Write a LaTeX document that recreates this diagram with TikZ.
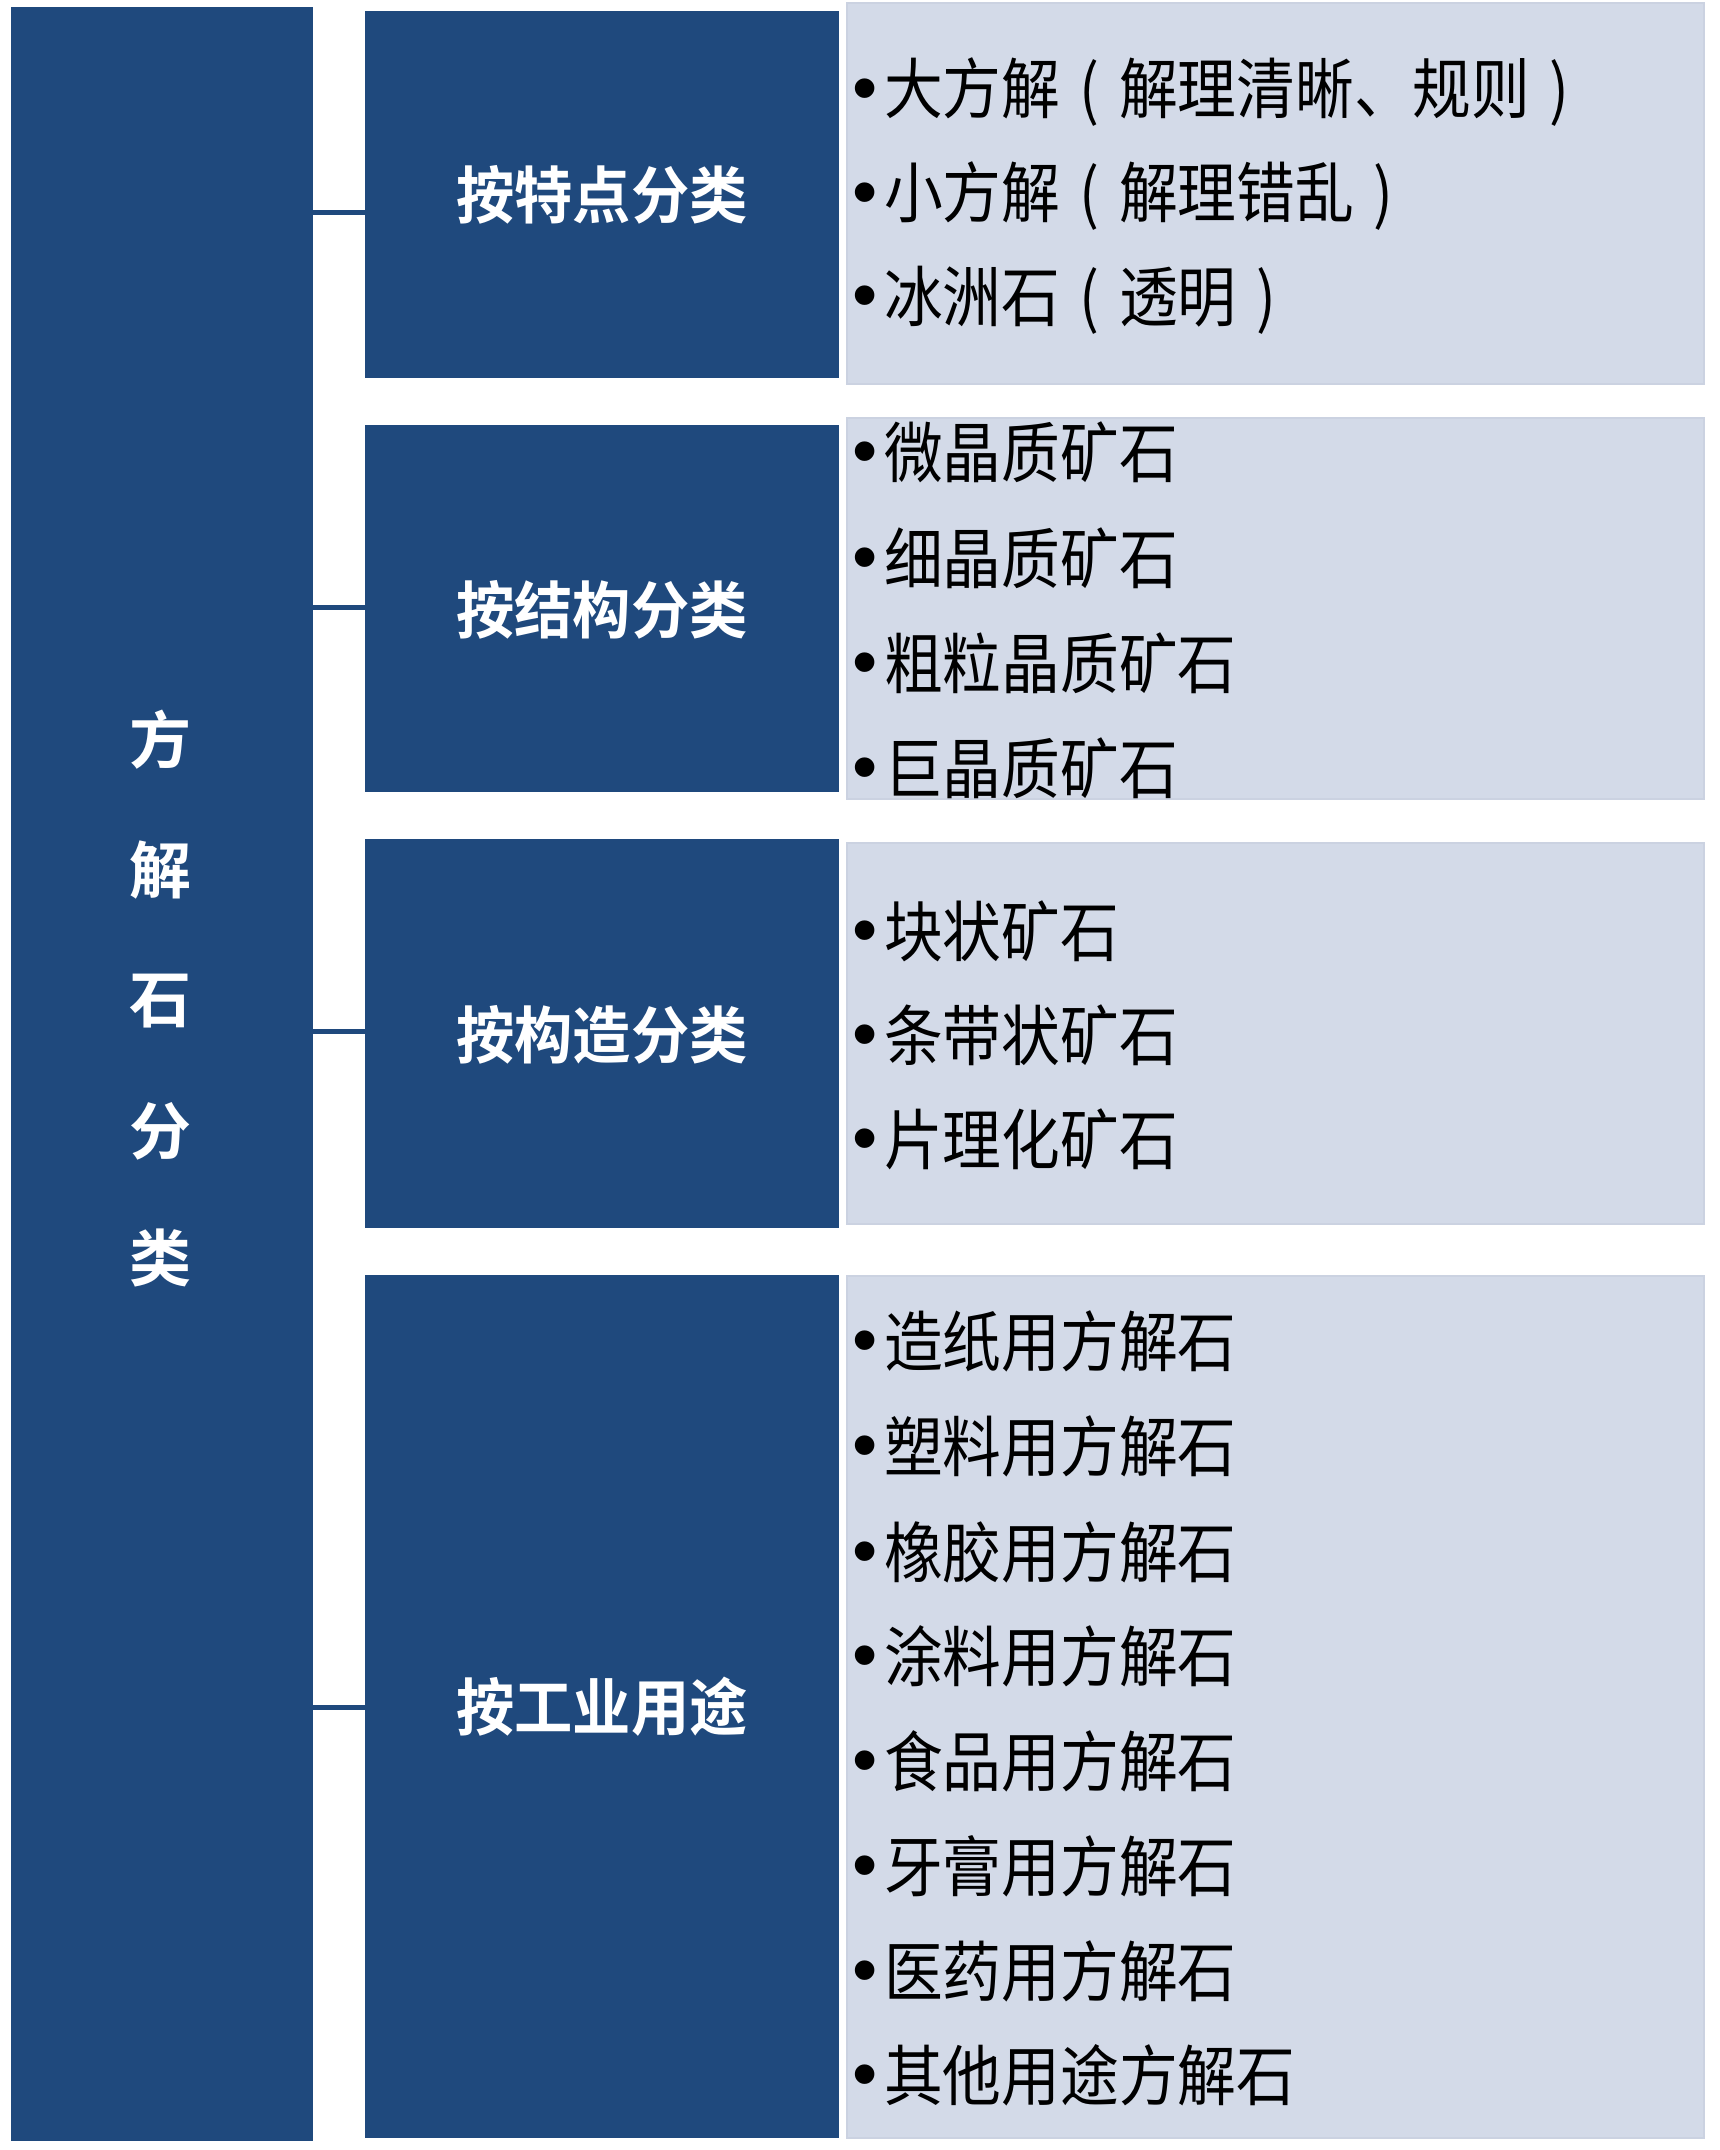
\documentclass[tikz,border=0pt]{standalone}
\usepackage{fontspec}
\newfontfamily\cjk[FakeStretch=0.89]{Noto Sans CJK SC}
\newfontfamily\cjkb[FakeStretch=0.94]{Noto Sans CJK SC Bold}
\newfontfamily\cjkbb{Noto Sans CJK SC Bold}
\newfontfamily\bul{Liberation Sans}
\definecolor{navy}{RGB}{31,73,125}
\definecolor{pale}{RGB}{211,218,232}
\definecolor{paleedge}{RGB}{203,210,225}
\tikzset{
  darkbox/.style={fill=navy,draw=none,anchor=north west,inner sep=0pt,outer sep=0pt},
  lightbox/.style={fill=pale,draw=paleedge,line width=1.5pt,anchor=north west,inner sep=0pt,outer sep=0pt},
  cat/.style={text=white,font=\cjkb\fontsize{62}{70}\selectfont},
  rootch/.style={text=white,font=\cjkbb\fontsize{62}{70}\selectfont},
  item/.style={anchor=west,inner sep=0pt,text=black,font=\cjk\fontsize{66}{72}\selectfont},
  conn/.style={draw=navy,line width=5pt}
}
\newcommand{\bt}{\makebox[32pt][l]{\bul\fontsize{72}{72}\selectfont\raisebox{0.02em}{•}}}
\newcommand{\lp}{\makebox[0.89em][c]{(}}
\newcommand{\rp}{\makebox[0.89em][c]{)}}
\begin{document}
\begin{tikzpicture}[x=1pt,y=-1pt]
\useasboundingbox (0,0) rectangle (1719,2150);
\fill[white] (0,0) rectangle (1719,2150);
% root column
\node[darkbox,minimum width=302pt,minimum height=2134pt] (root) at (11,7) {};
\node[rootch] (r1) at (160,740) {方};
\node[rootch] (r2) at (160,870) {解};
\node[rootch] (r3) at (160,1001) {石};
\node[rootch] (r4) at (160,1131) {分};
\node[rootch] (r5) at (160,1258) {类};
% light panels
\node[lightbox,minimum width=857pt,minimum height=381pt] (p1) at (847,3) {};
\node[lightbox,minimum width=857pt,minimum height=381pt] (p2) at (847,418) {};
\node[lightbox,minimum width=857pt,minimum height=381pt] (p3) at (847,843) {};
\node[lightbox,minimum width=857pt,minimum height=862pt] (p4) at (847,1276) {};
% category boxes
\node[darkbox,minimum width=474pt,minimum height=367pt] (c1) at (365,11) {};
\node[darkbox,minimum width=474pt,minimum height=367pt] (c2) at (365,425) {};
\node[darkbox,minimum width=474pt,minimum height=389pt] (c3) at (365,839) {};
\node[darkbox,minimum width=474pt,minimum height=863pt] (c4) at (365,1275) {};
\node[cat] (t1) at (602,195) {按特点分类};
\node[cat] (t2) at (602,610) {按结构分类};
\node[cat] (t3) at (602,1035) {按构造分类};
\node[cat] (t4) at (602,1707) {按工业用途};
% connectors
\coordinate (j1) at (365,212);
\coordinate (j2) at (365,607);
\coordinate (j3) at (365,1031);
\coordinate (j4) at (365,1707);
\draw[conn] (j1 -| root.east) -- (j1 -| c1.west);
\draw[conn] (j2 -| root.east) -- (j2 -| c2.west);
\draw[conn] (j3 -| root.east) -- (j3 -| c3.west);
\draw[conn] (j4 -| root.east) -- (j4 -| c4.west);
% items
\node[item] (a1) at (852,92) {\bt 大方解\lp 解理清晰、规则\rp};
\node[item] (a2) at (852,196) {\bt 小方解\lp 解理错乱\rp};
\node[item] (a3) at (852,300) {\bt 冰洲石\lp 透明\rp};
\node[item] (b1) at (852,452) {\bt 微晶质矿石};
\node[item] (b2) at (852,558) {\bt 细晶质矿石};
\node[item] (b3) at (852,663) {\bt 粗粒晶质矿石};
\node[item] (b4) at (852,768) {\bt 巨晶质矿石};
\node[item] (d1) at (852,931) {\bt 块状矿石};
\node[item] (d2) at (852,1035) {\bt 条带状矿石};
\node[item] (d3) at (852,1139) {\bt 片理化矿石};
\node[item] (e1) at (852,1341) {\bt 造纸用方解石};
\node[item] (e2) at (852,1446) {\bt 塑料用方解石};
\node[item] (e3) at (852,1552) {\bt 橡胶用方解石};
\node[item] (e4) at (852,1656) {\bt 涂料用方解石};
\node[item] (e5) at (852,1761) {\bt 食品用方解石};
\node[item] (e6) at (852,1866) {\bt 牙膏用方解石};
\node[item] (e7) at (852,1971) {\bt 医药用方解石};
\node[item] (e8) at (852,2075) {\bt 其他用途方解石};
\end{tikzpicture}
\end{document}
